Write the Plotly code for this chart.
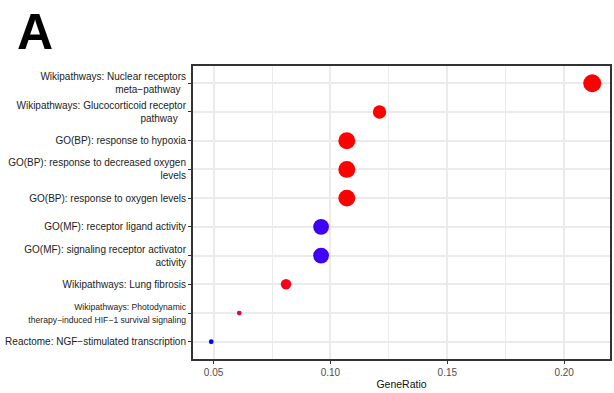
import numpy as np
import plotly.graph_objects as go

# ---- data (bottom to top) ----
terms = [
    "Reactome: NGF−stimulated transcription",
    "<span style='font-size:8.6px'>Wikipathways: Photodynamic<br>therapy−induced HIF−1 survival signaling</span>",
    "Wikipathways: Lung fibrosis",
    "GO(MF): signaling receptor activator<br>activity",
    "GO(MF): receptor ligand activity",
    "GO(BP): response to oxygen levels",
    "GO(BP): response to decreased oxygen<br>levels",
    "GO(BP): response to hypoxia",
    "Wikipathways: Glucocorticoid receptor<br>pathway\u00a0\u00a0\u00a0",
    "Wikipathways: Nuclear receptors<br>meta−pathway\u00a0\u00a0",
]
gene_ratio = [0.049, 0.061, 0.081, 0.096, 0.096, 0.107, 0.107, 0.107, 0.121, 0.212]
counts = [2, 2, 5, 9, 9, 10, 10, 10, 7, 11]
p_adjust = [0.044, 0.016, 0.0035, 0.0425, 0.0425, 0.001, 0.001, 0.001, 0.001, 0.001]
x_ticks = [0.05, 0.10, 0.15, 0.20]
x_tick_labels = ["0.05", "0.10", "0.15", "0.20"]


# ---- ggplot-like red->blue gradient interpolated in CIE Lab ----
def srgb_to_lab(rgb):
    c = np.array(rgb, dtype=float) / 255.0
    c = np.where(c <= 0.04045, c / 12.92, ((c + 0.055) / 1.055) ** 2.4)
    M = np.array([[0.4124, 0.3576, 0.1805], [0.2126, 0.7152, 0.0722], [0.0193, 0.1192, 0.9505]])
    xyz = M @ c
    xyz = xyz / np.array([0.95047, 1.0, 1.08883])
    f = np.where(xyz > 0.008856, np.cbrt(xyz), 7.787 * xyz + 16 / 116)
    return np.array([116 * f[1] - 16, 500 * (f[0] - f[1]), 200 * (f[1] - f[2])])


def lab_to_srgb(lab):
    L, a, b = lab
    fy = (L + 16) / 116
    fx = fy + a / 500
    fz = fy - b / 200
    f = np.array([fx, fy, fz])
    xyz = np.where(f ** 3 > 0.008856, f ** 3, (f - 16 / 116) / 7.787)
    xyz = xyz * np.array([0.95047, 1.0, 1.08883])
    Minv = np.array([[3.2406, -1.5372, -0.4986], [-0.9689, 1.8758, 0.0415], [0.0557, -0.2040, 1.0570]])
    c = Minv @ xyz
    c = np.where(c <= 0.0031308, 12.92 * c, 1.055 * np.clip(c, 0, None) ** (1 / 2.4) - 0.055)
    c = np.clip(c, 0, 1)
    return "rgb(%d,%d,%d)" % tuple(int(v) for v in np.round(c * 255))


lab_lo = srgb_to_lab((255, 0, 0))
lab_hi = srgb_to_lab((0, 0, 255))
colorscale = [[float(t), lab_to_srgb(lab_lo + (lab_hi - lab_lo) * t)] for t in np.linspace(0, 1, 41)]

# size scale (sqrt-area like ggplot scale_size)
sq = np.sqrt(np.array(counts, dtype=float))
d_min, d_max = 4.8, 18.0
sizes = (d_min + (d_max - d_min) * (sq - sq.min()) / (sq.max() - sq.min())).tolist()

ypos = list(range(1, len(terms) + 1))

fig = go.Figure()
fig.add_trace(go.Scatter(
    x=gene_ratio, y=ypos, mode="markers",
    marker=dict(size=sizes, color=p_adjust, colorscale=colorscale,
                cmin=min(p_adjust), cmax=max(p_adjust), showscale=False,
                opacity=1, line=dict(width=0)),
    hoverinfo="skip",
))

grid = "#EBEBEB"
border = "#333333"
fig.update_layout(
    width=614, height=393,
    margin=dict(l=193, r=2, t=66, b=34),
    paper_bgcolor="white", plot_bgcolor="white",
    showlegend=False,
    font=dict(family="Liberation Sans, Arial, sans-serif", size=10, color="#222222"),
    xaxis=dict(
        range=[0.0412, 0.2196],
        tickvals=x_ticks, ticktext=x_tick_labels,
        showgrid=True, gridcolor=grid, gridwidth=2,
        minor=dict(dtick=0.025, tick0=0.025, showgrid=True, gridcolor=grid, gridwidth=1),
        zeroline=False,
        showline=True, mirror=True, linecolor=border, linewidth=2,
        ticks="outside", ticklen=3, tickwidth=1, tickcolor=border,
        tickfont=dict(size=10, color="#4D4D4D"),
        title=dict(text="GeneRatio", font=dict(size=10.5, color="#111111"), standoff=4),
    ),
    yaxis=dict(
        range=[0.4, 10.6],
        tickvals=ypos, ticktext=terms,
        showgrid=True, gridcolor=grid, gridwidth=2,
        zeroline=False,
        showline=True, mirror=True, linecolor=border, linewidth=2,
        ticks="outside", ticklen=3, tickwidth=1, tickcolor=border,
        tickfont=dict(size=10, color="#222222"),
    ),
    annotations=[dict(
        text="<b>A</b>", xref="paper", yref="paper",
        x=(14 - 193) / 419, y=(359 - 62) / 293,
        xanchor="left", yanchor="bottom", showarrow=False,
        font=dict(size=50, color="black", family="Liberation Sans, Arial, sans-serif"),
    )],
)

fig.write_html("out.html")
